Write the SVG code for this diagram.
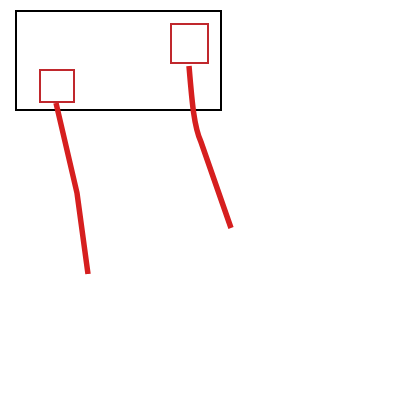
<svg xmlns="http://www.w3.org/2000/svg" width="400" height="400" viewBox="0 0 400 400">
<style>
.frame{fill:none;stroke:#000;stroke-width:2}
.box{fill:none;stroke:#c0282d;stroke-width:2}
.wire{fill:none;stroke:#d61f1f;stroke-width:5.5;stroke-linejoin:round}
</style>
<rect width="400" height="400" fill="#fff"/>
<g id="frame"><rect class="frame" x="16" y="11" width="205" height="99"/></g>
<g id="node1"><rect class="box" x="40" y="70" width="34" height="32"/></g>
<g id="node2"><rect class="box" x="171" y="24" width="37" height="39"/></g>
<g id="connectors">
<path class="wire" d="M56,103 L77,193 L88,274"/>
<path class="wire" d="M189,66 C192,102 194,127 201,142 L231,228"/>
</g>
</svg>
